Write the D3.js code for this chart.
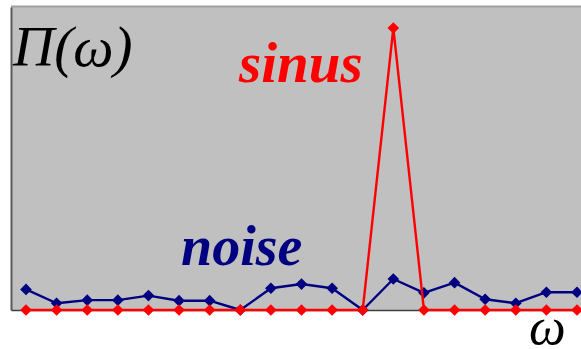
<!DOCTYPE html>
<html>
<head>
<meta charset="utf-8">
<script src="https://cdn.jsdelivr.net/npm/d3@7"></script>
<style>
  html, body { margin: 0; padding: 0; background: #fff; }
  svg { display: block; }
</style>
</head>
<body>
<svg id="chart" width="581" height="349"></svg>
<script>
// Frequency bins ω (19 samples)
const bins = d3.range(19);
// Power spectrum of a pure sinus: a single spike
const sinusValues = [0, 0, 0, 0, 0, 0, 0, 0, 0, 0, 0, 0, 100, 0, 0, 0, 0, 0, 0];
// Power spectrum of noise: small, spread over all bins
const noiseValues = [7.3, 2.4, 3.5, 3.5, 5.1, 3.3, 3.3, 0, 7.7, 9.2, 7.7, 0, 11, 6.1, 9.7, 3.8, 2.4, 6.3, 6.3];

const frame = { left: 11, right: 581, top: 7, bottom: 310 };

const svg = d3.select("#chart");

const x = d3.scaleLinear().domain([0, 18]).range([26, 577]);
const y = d3.scaleLinear().domain([0, 100]).range([frame.bottom, 28]);

// plot area
svg.append("rect")
  .attr("x", frame.left).attr("y", frame.top)
  .attr("width", frame.right - frame.left).attr("height", frame.bottom - frame.top)
  .attr("fill", "#c0c0c0");

svg.append("line")
  .attr("x1", frame.left).attr("x2", frame.right)
  .attr("y1", frame.top - 0.5).attr("y2", frame.top - 0.5)
  .attr("stroke", "#a0a0a0").attr("stroke-width", 2);

// axes as bare lines
const frameX = d3.scaleLinear().domain([0, 1]).range([frame.left, frame.right]);
const frameY = d3.scaleLinear().domain([0, 1]).range([frame.bottom, frame.top]);

svg.append("g")
  .attr("transform", `translate(${frame.left},0)`)
  .call(d3.axisLeft(frameY).ticks(0).tickSizeOuter(0))
  .call(g => g.select(".domain").attr("stroke", "#5a5a5a").attr("stroke-width", 2));

svg.append("g")
  .attr("transform", `translate(0,${frame.bottom})`)
  .call(d3.axisBottom(frameX).ticks(0).tickSizeOuter(0))
  .call(g => g.select(".domain").attr("stroke", "#404040").attr("stroke-width", 1.5));

const line = d3.line().x((d, i) => x(bins[i])).y(d => y(d));
// square diamond marker (a square turned by 45°)
const marker = d3.symbol().type(d3.symbolSquare).size(68);

function series(values, color) {
  svg.append("path")
    .datum(values)
    .attr("d", line)
    .attr("fill", "none")
    .attr("stroke", color)
    .attr("stroke-width", 2.4)
    .attr("stroke-linejoin", "round");
  svg.append("g").selectAll("path")
    .data(values)
    .join("path")
    .attr("d", marker)
    .attr("transform", (d, i) => `translate(${x(bins[i])},${y(d)}) rotate(45)`)
    .attr("fill", color);
}

series(noiseValues, "#000080");
series(sinusValues, "#ff0000");

// labels
const serif = "'Liberation Serif', 'Times New Roman', serif";

svg.append("text")
  .attr("x", 13).attr("y", 66)
  .attr("font-family", serif).attr("font-style", "italic")
  .attr("font-size", 57).attr("fill", "#000")
  .text("Π(ω)");

svg.append("text")
  .attr("x", 239).attr("y", 82)
  .attr("font-family", serif).attr("font-style", "italic").attr("font-weight", "bold")
  .attr("font-size", 57).attr("fill", "#ff0000")
  .text("sinus");

svg.append("text")
  .attr("x", 181).attr("y", 265)
  .attr("font-family", serif).attr("font-style", "italic").attr("font-weight", "bold")
  .attr("font-size", 56).attr("fill", "#000080")
  .text("noise");

svg.append("text")
  .attr("x", 529).attr("y", 344)
  .attr("font-family", serif).attr("font-style", "italic")
  .attr("font-size", 52).attr("fill", "#000")
  .text("ω");
</script>
</body>
</html>
